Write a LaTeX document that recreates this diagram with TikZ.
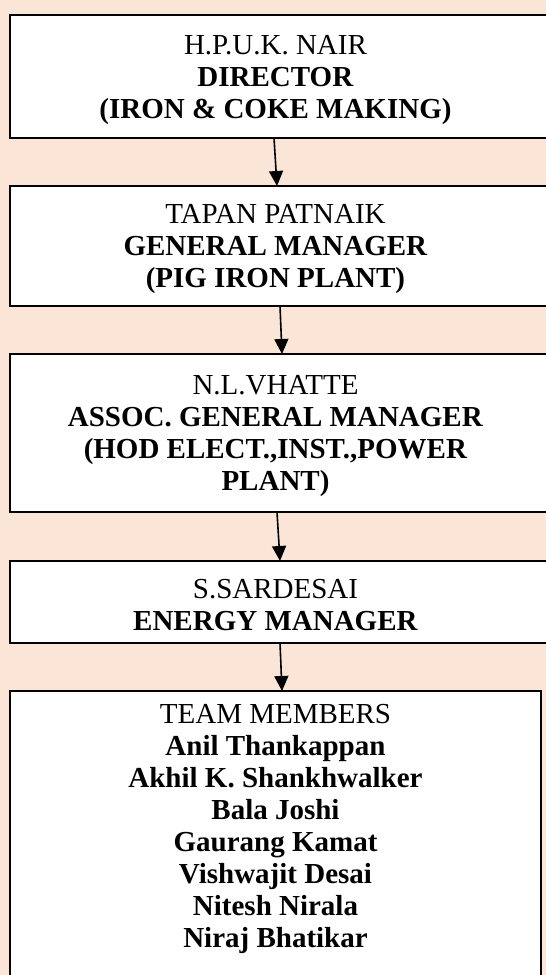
\documentclass[tikz,border=0pt]{standalone}
\usepackage{fontspec}
\setmainfont{Liberation Serif}
\usetikzlibrary{arrows.meta}
\definecolor{peach}{HTML}{FBE5D6}
\newcommand{\boxtext}[2]{\parbox[c][#1][c]{531pt}{\centering\fontsize{29}{32}\selectfont\vspace*{7pt}#2}\hspace*{19pt}}
\tikzset{
  orgbox/.style={draw=black, line width=1.5pt, fill=white, inner sep=0pt, outer sep=0pt},
  arr/.style={line width=1.6pt, -{Triangle[width=14pt,length=15pt]}}
}
\begin{document}
\begin{tikzpicture}[x=1pt,y=1pt]
\useasboundingbox (0,0) rectangle (546,975);
\clip (0,0) rectangle (546,975);
\fill[peach] (0,0) rectangle (546,975);
\node[orgbox] (b1) at (285,898.5) {\boxtext{123pt}{H.P.U.K. NAIR\\\textbf{DIRECTOR}\\\textbf{(IRON \& COKE MAKING)}}};
\node[orgbox] (b2) at (285,729) {\boxtext{120pt}{TAPAN PATNAIK\\\textbf{GENERAL MANAGER}\\\textbf{(PIG IRON PLANT)}}};
\node[orgbox] (b3) at (285,542) {\boxtext{158pt}{N.L.VHATTE\\\textbf{ASSOC. GENERAL MANAGER}\\\textbf{(HOD ELECT.,INST.,POWER}\\\textbf{PLANT)}}};
\node[orgbox] (b4) at (285,373) {\boxtext{82pt}{S.SARDESAI\\\textbf{ENERGY MANAGER}}};
\node[orgbox, anchor=north] (b5) at (275.5,284) {\parbox[c][320pt][t]{531pt}{\centering\fontsize{29}{32}\selectfont\vspace*{13pt}TEAM MEMBERS\\\textbf{Anil Thankappan}\\\textbf{Akhil K. Shankhwalker}\\\textbf{Bala Joshi}\\\textbf{Gaurang Kamat}\\\textbf{Vishwajit Desai}\\\textbf{Nitesh Nirala}\\\textbf{Niraj Bhatikar}}};
\draw[arr] ([xshift=-11pt]b1.south) -- ([xshift=-8pt]b2.north);
\draw[arr] ([xshift=-5pt]b2.south) -- ([xshift=-3pt]b3.north);
\draw[arr] ([xshift=-8pt]b3.south) -- ([xshift=-5pt]b4.north);
\draw[arr] ([xshift=-5pt]b4.south) -- ([xshift=6.5pt]b5.north);
\end{tikzpicture}
\end{document}
